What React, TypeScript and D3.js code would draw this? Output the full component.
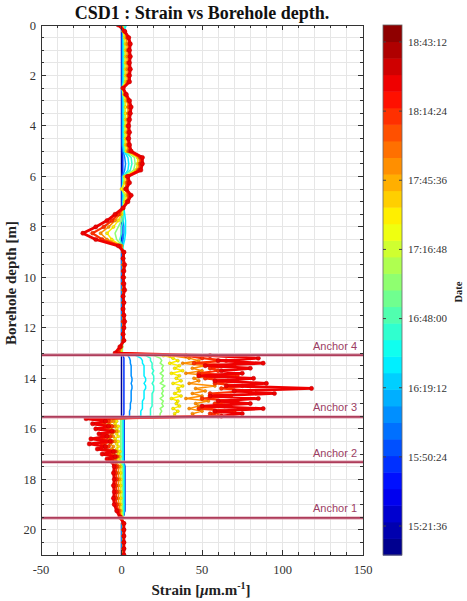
import React, { useEffect, useRef } from 'react';
import * as d3 from 'd3';

// sampling depths [m] (shared by every profile)
const DEPTH = [
  0, 0.25, 0.5, 0.75, 1, 1.25, 1.5, 1.75, 2, 2.25,
  2.5, 2.75, 3, 3.25, 3.5, 3.75, 4, 4.25, 4.5, 4.75,
  5, 5.25, 5.5, 5.75, 6, 6.25, 6.5, 6.75, 7, 7.25,
  7.5, 7.75, 8, 8.25, 8.5, 8.75, 9, 9.25, 9.5, 9.75,
  10, 10.25, 10.5, 10.75, 11, 11.25, 11.5, 11.75, 12, 12.25,
  12.5, 12.75, 13,
  13.1, 13.2, 13.3, 13.4, 13.5, 13.6, 13.7, 13.8, 13.9, 14,
  14.1, 14.2, 14.3, 14.4, 14.5, 14.6, 14.7, 14.8, 14.9, 15,
  15.1, 15.2, 15.3, 15.4, 15.5,
  15.6, 15.7, 15.8, 15.9, 16, 16.1, 16.2, 16.3, 16.4, 16.5,
  16.6, 16.7, 16.8, 16.9, 17, 17.1, 17.2, 17.3,
  17.5, 17.75, 18, 18.25, 18.5, 18.75, 19, 19.25, 19.5, 19.75,
  20, 20.25, 20.5, 20.75, 21,
];

// acquisition time of each profile
const PROFILE_TIMES = ['15:15:00', '15:45:00', '16:10:00', '16:30:00', '16:45:00', '17:05:00', '17:30:00', '17:55:00', '18:10:00', '18:25:00'];

// strain profiles [µm/m], same order as DEPTH
const STRAIN_1515 = [
  0, 0, 0, 0, 0, 0, 0, 0, 0, 0,
  0, 0, 0, 0, 0, 0, 0, 0, 0, 0,
  0, 0, 0, 0, 0, 0, 0, 0, 0, 0,
  0, 0, 0, 0, 0, 0, 0, 0, 0, 0,
  0, 0, 0, 0, 0, 0, 0, 0, 0, 0,
  0, 0, 0,
  0, 0, 0, 0, 0, 0, 0, 0, 0, 0, 0, 0, 0, 0, 0, 0, 0, 0, 0, 0, 0, 0, 0, 0, 0,
  1.5, 1.5, 1.5, 1.5, 1.5, 1.5, 1.5, 1.5, 1.5, 1.5, 1.5, 1.5, 1.5, 1.5, 1.5, 1.5, 1.5, 1.5,
  2, 2, 2, 2, 2, 2, 2, 2, 1, 0, 0, 0, 0, 0, 0,
];
const STRAIN_1545 = [
  0.3, 0.3, 0.3, 0.3, 0.3, 0.3, 0.3, 0.3, 0.3, 0.3,
  0.3, 0.3, 0.3, 0.3, 0.3, 0.3, 0.3, 0.3, 0.3, 0.3,
  0.5, 0.8, 0.8, 0.8, 0.3, 0.3, 0.3, 0.3, 0.3, 0.3,
  0.3, 0.3, 0.3, 0.3, 0.3, 0.3, 0.3, 0.3, 0.3, 0.3,
  0.3, 0.3, 0.3, 0.3, 0.3, 0.3, 0.3, 0.3, 0.3, 0.3,
  0.3, 0.3, 0.3,
  1, 1.5, 1.5, 1.5, 1.5, 1.5, 1.5, 1.5, 1.5, 1.5, 1.5, 1.5, 1.5, 1.5, 1.5, 1.5, 1.5, 1.5, 1.5, 1.5, 1.5, 1.5, 1.5, 1.5, 1,
  1.5, 1.5, 1.5, 1.5, 1.5, 1.5, 1.5, 1.5, 1.5, 1.5, 1.5, 1.5, 1.5, 1.5, 1.5, 1.5, 1.5, 1.5,
  2, 2, 2, 2, 2, 2, 2, 2, 1, 0.2, 0.2, 0.2, 0.2, 0.2, 0.2,
];
const STRAIN_1610 = [
  1, 0.8, 0.6, 0.6, 0.6, 0.6, 0.6, 0.6, 0.6, 0.6,
  0.3, 0.5, 0.6, 0.6, 0.6, 0.6, 0.6, 0.6, 0.6, 0.6,
  1, 2, 2.5, 2, 0.6, 0.6, 0.6, 0.6, 0.6, 0.6,
  0.6, 1, 1.5, 1.5, 1, 0.6, 0.5, 0.4, 0.4, 0.4,
  0.4, 0.4, 0.4, 0.4, 0.4, 0.4, 0.4, 0.4, 0.4, 0.4,
  0.4, 0.3, 0.3,
  4, 5, 5.5, 5.5, 6, 6, 6, 6, 6, 6.5, 6.5, 6, 6.5, 6.5, 6, 6, 6, 6, 6, 5.5, 5.5, 5.5, 5, 5, 5,
  1.2, 1.2, 1.2, 1.2, 1.2, 1.2, 1.2, 1.2, 1.2, 1.2, 1.2, 1.2, 1.2, 1.2, 1.2, 1.2, 1.2, 1.2,
  1.8, 1.8, 1.8, 1.8, 1.8, 1.8, 1.8, 1.8, 1, 0.4, 0.4, 0.4, 0.4, 0.4, 0.4,
];
const STRAIN_1630 = [
  3, 1.5, 1, 1, 1, 1, 1, 1, 1, 1,
  0.5, 0.8, 1, 1, 1, 1, 1, 1, 1, 1,
  1.5, 4, 4.5, 4, 1, 0.8, 0.5, 1, 1, 1.5,
  2, 2.5, 2.5, 2.5, 2, 1, 0.8, 0.6, 0.6, 0.6,
  0.6, 0.6, 0.6, 0.6, 0.6, 0.6, 0.6, 0.6, 0.6, 0.6,
  0.6, 0.5, 0.5,
  9, 12, 13, 13, 14, 14, 14, 14, 14, 15, 15, 14, 15, 15, 14, 14, 14, 14, 13, 13, 13, 13, 12, 12, 12,
  1, 1, 1, 1, 1, 1, 1, 1, 1, 1, 1, 1, 1, 1, 1, 1, 1, 1,
  1.5, 1.5, 1.5, 1.5, 1.5, 1.5, 1.5, 1.5, 1, 0.6, 0.6, 0.6, 0.6, 0.6, 0.6,
];
const STRAIN_1645 = [
  2, 1.5, 1.5, 1.5, 1.5, 1.5, 1.5, 1.5, 1.5, 1.5,
  0.5, 1, 1.5, 1.5, 1.5, 1.5, 1.5, 1.5, 1.5, 1.5,
  2, 6, 6.5, 5.5, 1, 1, 0.5, 1.5, 1, 1,
  1, 1, 0, 0, -1, 0.5, 1, 0.8, 0.8, 0.8,
  0.8, 0.8, 0.8, 0.8, 0.8, 0.8, 0.8, 0.8, 0.8, 0.8,
  0.8, 0.5, 0.5,
  15, 18, 18, 19, 19, 19, 20, 19, 20, 20, 20, 19, 20, 20, 20, 19, 19, 19, 19, 19, 19, 18, 18, 18, 18,
  0.5, 0.5, 0.5, 0.5, 0.5, 0.5, 0.5, 0.5, 0.5, 0.5, 0.5, 0.5, 0.5, 0.5, 0.5, 0.5, 0.5, 0.5,
  1, 1, 1, 1, 1, 1, 1, 1, 1, 0.8, 0.8, 0.8, 0.8, 0.8, 0.8,
];
const STRAIN_1705 = [
  1, 1, 1.5, 2, 2, 2, 2, 2, 2, 2,
  0.5, 1, 2, 2, 2, 2, 2, 2, 2, 2,
  2.5, 8, 8.5, 7.5, 1.5, 1.5, 0.5, 2, 1.5, 1,
  0.5, 0, -2, -4, -3, 0.5, 1, 1, 1, 1,
  1, 1, 1, 1, 1, 1, 1, 1, 1, 1,
  1, 0.5, 0.5,
  20, 24, 25, 24, 26, 25, 26, 24, 26, 25, 26, 24, 27, 25, 26, 25, 26, 24, 26, 25, 26, 24, 25, 24, 24,
  -0.5, -0.5, -0.5, -0.5, -0.5, -0.5, -0.5, -0.5, -0.5, -0.5, -0.5, -0.5, -0.5, -0.5, -0.5, -0.5, -0.5, -0.5,
  0.5, 0.5, 0.5, 0.5, 0.5, 0.5, 0.5, 0.5, 0.8, 1, 1, 1, 1, 1, 1,
];
const STRAIN_1730 = [
  0.5, 1, 2, 2.5, 2.5, 2.5, 2.5, 2.5, 2.5, 2.5,
  0.5, 1.5, 2.5, 2.5, 2.5, 2.5, 2.5, 2.5, 2.5, 2.5,
  3, 10, 10, 9, 2, 2, 0, 3, 2, 1,
  0, -2, -5, -9, -6, 0, 1, 1, 1, 1,
  1, 1, 1, 1, 1, 1, 1, 1, 1, 1,
  1, 0, 0,
  26, 32, 35, 30, 36, 33, 38, 31, 36, 34, 37, 32, 38, 35, 36, 33, 37, 31, 35, 34, 36, 32, 35, 33, 33,
  -5, -3, -4, -2, -3, -2, -3, -2, -4, -2, -3, -2, -3, -1, -2, -1, -2, -1,
  -0.5, -0.5, -0.5, -0.5, -0.5, -0.5, -0.5, -0.3, 0.3, 1, 1, 1, 1, 1, 1,
];
const STRAIN_1755 = [
  0, 1.5, 3, 3.5, 3.5, 3.5, 3.5, 3.5, 3.5, 3.5,
  1, 2, 3.5, 4, 4, 3.5, 3.5, 3.5, 3.5, 3.5,
  4, 11, 11, 10, 3, 3, 2, 4, 3, 1,
  -1, -4, -8, -13, -9, 0, 1, 1, 1, 1,
  1, 1, 1, 1, 1, 1, 1, 1, 1, 1,
  1, 0, -1,
  30, 42, 48, 38, 52, 44, 50, 40, 55, 45, 48, 42, 58, 46, 52, 44, 50, 40, 54, 46, 48, 42, 50, 44, 45,
  -10, -5, -8, -4, -7, -3, -6, -5, -8, -4, -7, -5, -6, -3, -5, -2, -4, -3,
  -1.5, -2, -1.5, -2, -1.5, -2, -1.5, -1, 0, 1.2, 1.2, 1.2, 1.2, 1.2, 1.2,
];
const STRAIN_1810 = [
  -1, 2, 4, 5, 4.5, 5, 4.5, 5, 4.5, 4.5,
  1, 2.5, 4.5, 5, 5, 4.5, 4, 4.5, 4, 4.5,
  5, 12, 12, 11, 3.5, 4, 2.5, 5, 3.5, 1,
  -2, -6, -11, -18, -12, -1, 1.5, 1, 1.5, 1,
  1.5, 1, 1.5, 1, 1.5, 1, 1.5, 1, 1.5, 1,
  1.5, -0.5, -2,
  40, 50, 65, 45, 70, 55, 60, 48, 72, 52, 66, 58, 75, 62, 80, 55, 68, 50, 72, 58, 64, 48, 70, 55, 60,
  -15, -8, -12, -6, -11, -5, -10, -7, -13, -6, -12, -8, -10, -4, -8, -3, -6, -4,
  -3, -3.5, -3, -3.5, -3, -3.5, -3, -2, -0.5, 1.5, 1.5, 1.5, 1.5, 1.5, 1.5,
];
const STRAIN_1825 = [
  -2, 2, 4.5, 5.5, 5, 5.5, 5, 5.5, 5, 5,
  1, 3, 5, 6, 5.5, 5, 4.5, 5, 4.5, 5,
  6, 13, 13, 12, 4, 5, 3, 6, 4, 1,
  -4, -9, -16, -24, -16, -2, 1.5, 1, 2, 1.5,
  1, 1.5, 2, 1, 1.5, 1, 1.5, 2, 1.5, 1,
  1.5, -1, -4,
  55, 85, 60, 88, 52, 80, 62, 75, 48, 82, 58, 90, 65, 118, 70, 95, 55, 85, 60, 80, 50, 88, 58, 75, 62,
  -22, -10, -18, -8, -16, -6, -14, -9, -19, -7, -20, -10, -15, -5, -12, -4, -9, -6,
  -4.5, -5, -4.5, -5, -4.5, -5, -4.5, -3, -1, 1.5, 1.5, 1.5, 1.5, 1.5, 1.5,
];

const PROFILES = [
  STRAIN_1515, STRAIN_1545, STRAIN_1610, STRAIN_1630, STRAIN_1645,
  STRAIN_1705, STRAIN_1730, STRAIN_1755, STRAIN_1810, STRAIN_1825,
];

const X_TICKS = [-50, 0, 50, 100, 150];
const Y_TICKS = [0, 2, 4, 6, 8, 10, 12, 14, 16, 18, 20];
const DATE_TICKS = ['15:21:36', '15:50:24', '16:19:12', '16:48:00', '17:16:48', '17:45:36', '18:14:24', '18:43:12'];
const DATE_RANGE = ['15:09:32', '18:50:16'];

const ANCHOR_NAMES = ['Anchor 4', 'Anchor 3', 'Anchor 2', 'Anchor 1'];
const ANCHOR_DEPTHS = [13.08, 15.53, 17.32, 19.53];

const toSec = (s: string) => {
  const [h, m, sec] = s.split(':').map(Number);
  return h * 3600 + m * 60 + sec;
};

// matlab-like jet colormap
const jet = (t: number) => {
  const c = (v: number) => Math.max(0, Math.min(1, v));
  const r = c(Math.min(4 * t - 1.5, -4 * t + 4.5));
  const g = c(Math.min(4 * t - 0.5, -4 * t + 3.5));
  const b = c(Math.min(4 * t + 0.5, -4 * t + 2.5));
  return d3.rgb(r * 255, g * 255, b * 255).formatHex();
};
const N_LEVELS = 32;

const App = () => {
  const svgRef = useRef<SVGSVGElement>(null);

  useEffect(() => {
    const svg = d3.select(svgRef.current);
    svg.selectAll('*').remove();

    const W = 467, H = 601;
    const box = { left: 41, right: 363, top: 25, bottom: 555 };
    const serif = 'Liberation Serif, DejaVu Serif, serif';
    svg.attr('width', W).attr('height', H);

    const x = d3.scaleLinear().domain([-50, 150]).range([box.left, box.right]);
    const y = d3.scaleLinear().domain([0, 21]).range([box.top, box.bottom]);

    const tScale = d3.scaleLinear().domain(DATE_RANGE.map(toSec)).range([0, 1]).clamp(true);
    const level = (t: number) => Math.min(N_LEVELS - 1, Math.floor(t * N_LEVELS));
    const colorOf = (time: string) => jet((level(tScale(toSec(time))) + 0.5) / N_LEVELS);

    svg.append('rect').attr('width', W).attr('height', H).attr('fill', '#fff');

    // grid
    const grid = svg.append('g').attr('stroke', '#e6e6e6').attr('stroke-width', 1).attr('shape-rendering', 'crispEdges');
    d3.range(-40, 150, 10).forEach(v => {
      grid.append('line').attr('x1', x(v)).attr('x2', x(v)).attr('y1', box.top).attr('y2', box.bottom);
    });
    d3.range(0.5, 21, 0.5).forEach(v => {
      grid.append('line').attr('y1', y(v)).attr('y2', y(v)).attr('x1', box.left).attr('x2', box.right);
    });

    // profiles, oldest first so the latest ends up on top
    svg.append('defs').append('clipPath').attr('id', 'plotclip')
      .append('rect').attr('x', box.left).attr('y', box.top)
      .attr('width', box.right - box.left).attr('height', box.bottom - box.top);
    const plot = svg.append('g').attr('clip-path', 'url(#plotclip)');

    PROFILES.forEach((prof, k) => {
      const col = colorOf(PROFILE_TIMES[k]);
      const pts = prof.map((s, i) => [s, DEPTH[i]] as [number, number]).filter(p => p[1] !== undefined);
      const line = d3.line<[number, number]>().x(p => x(p[0])).y(p => y(p[1]));
      plot.append('path')
        .attr('d', line(pts))
        .attr('fill', 'none')
        .attr('stroke', col)
        .attr('stroke-width', k === 9 ? 2.8 : k === 8 ? 2.2 : 1.5)
        .attr('stroke-linejoin', 'round');
      if (k >= 6) {
        const dark = d3.color(col)!.darker(0.7).formatHex();
        plot.append('g').selectAll('circle')
          .data(pts)
          .enter().append('circle')
          .attr('cx', p => x(p[0]))
          .attr('cy', p => y(p[1]))
          .attr('r', k === 9 ? 2.1 : k === 8 ? 1.9 : 1.5)
          .attr('fill', col)
          .attr('stroke', dark)
          .attr('stroke-width', 0.5);
      }
    });

    // anchors
    ANCHOR_DEPTHS.forEach((d, i) => {
      plot.append('line').attr('x1', box.left).attr('x2', box.right).attr('y1', y(d)).attr('y2', y(d))
        .attr('stroke', '#dc98a8').attr('stroke-width', 3);
      plot.append('line').attr('x1', box.left).attr('x2', box.right).attr('y1', y(d)).attr('y2', y(d))
        .attr('stroke', '#9e1f42').attr('stroke-width', 1.2);
      svg.append('text')
        .attr('x', 357).attr('y', y(d) - 5.5)
        .attr('text-anchor', 'end')
        .attr('font-family', 'Liberation Sans, Arial, sans-serif')
        .attr('font-size', 11)
        .attr('fill', '#9c3d63')
        .text(ANCHOR_NAMES[i]);
    });

    // frame and ticks
    const axes = svg.append('g').attr('stroke', '#333').attr('stroke-width', 1).attr('shape-rendering', 'crispEdges');
    axes.append('rect').attr('x', box.left).attr('y', box.top)
      .attr('width', box.right - box.left).attr('height', box.bottom - box.top).attr('fill', 'none');
    d3.range(-50, 151, 10).forEach(v => {
      const len = X_TICKS.includes(v) ? 5 : 3;
      axes.append('line').attr('x1', x(v)).attr('x2', x(v)).attr('y1', box.bottom).attr('y2', box.bottom - len);
      axes.append('line').attr('x1', x(v)).attr('x2', x(v)).attr('y1', box.top).attr('y2', box.top + len);
    });
    d3.range(0, 21.01, 0.5).forEach(v => {
      const len = Y_TICKS.includes(v) ? 5 : 3;
      axes.append('line').attr('y1', y(v)).attr('y2', y(v)).attr('x1', box.left).attr('x2', box.left + len);
      axes.append('line').attr('y1', y(v)).attr('y2', y(v)).attr('x1', box.right).attr('x2', box.right - len);
    });

    svg.append('g').selectAll('text').data(X_TICKS).enter().append('text')
      .attr('x', d => x(d)).attr('y', 574)
      .attr('text-anchor', 'middle')
      .attr('font-family', serif).attr('font-size', 12.5).attr('fill', '#333')
      .text(d => String(d));
    svg.append('g').selectAll('text').data(Y_TICKS).enter().append('text')
      .attr('x', 36).attr('y', d => y(d) + 4.5)
      .attr('text-anchor', 'end')
      .attr('font-family', serif).attr('font-size', 12.5).attr('fill', '#333')
      .text(d => String(d));

    // titles
    svg.append('text')
      .attr('x', 202).attr('y', 19)
      .attr('text-anchor', 'middle')
      .attr('font-family', serif).attr('font-size', 18).attr('font-weight', 'bold').attr('fill', '#111')
      .text('CSD1 : Strain vs Borehole depth.');

    svg.append('text')
      .attr('transform', 'translate(16,283) rotate(-90)')
      .attr('text-anchor', 'middle')
      .attr('font-family', serif).attr('font-size', 15).attr('font-weight', 'bold').attr('fill', '#222')
      .text('Borehole depth [m]');

    const xl = svg.append('text')
      .attr('x', 201).attr('y', 595)
      .attr('text-anchor', 'middle')
      .attr('font-family', serif).attr('font-size', 15).attr('font-weight', 'bold').attr('fill', '#222');
    xl.append('tspan').text('Strain [');
    xl.append('tspan').attr('font-style', 'italic').text('\u03bc');
    xl.append('tspan').text('m.m');
    xl.append('tspan').attr('font-size', 10).attr('dy', -6).text('-1');
    xl.append('tspan').attr('dy', 6).text(']');

    // colorbar
    const cb = { left: 383, right: 402 };
    const cy = d3.scaleLinear().domain([0, 1]).range([box.bottom, box.top]);
    const cbar = svg.append('g');
    d3.range(N_LEVELS).forEach(i => {
      cbar.append('rect')
        .attr('x', cb.left).attr('width', cb.right - cb.left)
        .attr('y', cy((i + 1) / N_LEVELS)).attr('height', cy(i / N_LEVELS) - cy((i + 1) / N_LEVELS) + 0.5)
        .attr('fill', jet((i + 0.5) / N_LEVELS));
    });
    cbar.append('rect').attr('x', cb.left).attr('y', box.top)
      .attr('width', cb.right - cb.left).attr('height', box.bottom - box.top)
      .attr('fill', 'none').attr('stroke', '#666').attr('stroke-width', 0.8);
    DATE_TICKS.forEach(t => {
      const ty = cy(tScale(toSec(t)));
      cbar.append('line').attr('x1', cb.left).attr('x2', cb.left + 3).attr('y1', ty).attr('y2', ty).attr('stroke', '#444');
      cbar.append('line').attr('x1', cb.right).attr('x2', cb.right - 3).attr('y1', ty).attr('y2', ty).attr('stroke', '#444');
      cbar.append('text')
        .attr('x', 408).attr('y', ty + 3.8)
        .attr('font-family', serif).attr('font-size', 11).attr('fill', '#333')
        .text(t);
    });
    svg.append('text')
      .attr('transform', 'translate(462,292) rotate(-90)')
      .attr('text-anchor', 'middle')
      .attr('font-family', serif).attr('font-size', 10.5).attr('font-weight', 'bold').attr('fill', '#222')
      .text('Date');
  }, []);

  return (
    <svg ref={svgRef} style={{ position: 'absolute', left: 0, top: 0, display: 'block' }}></svg>
  );
};

export default App;
